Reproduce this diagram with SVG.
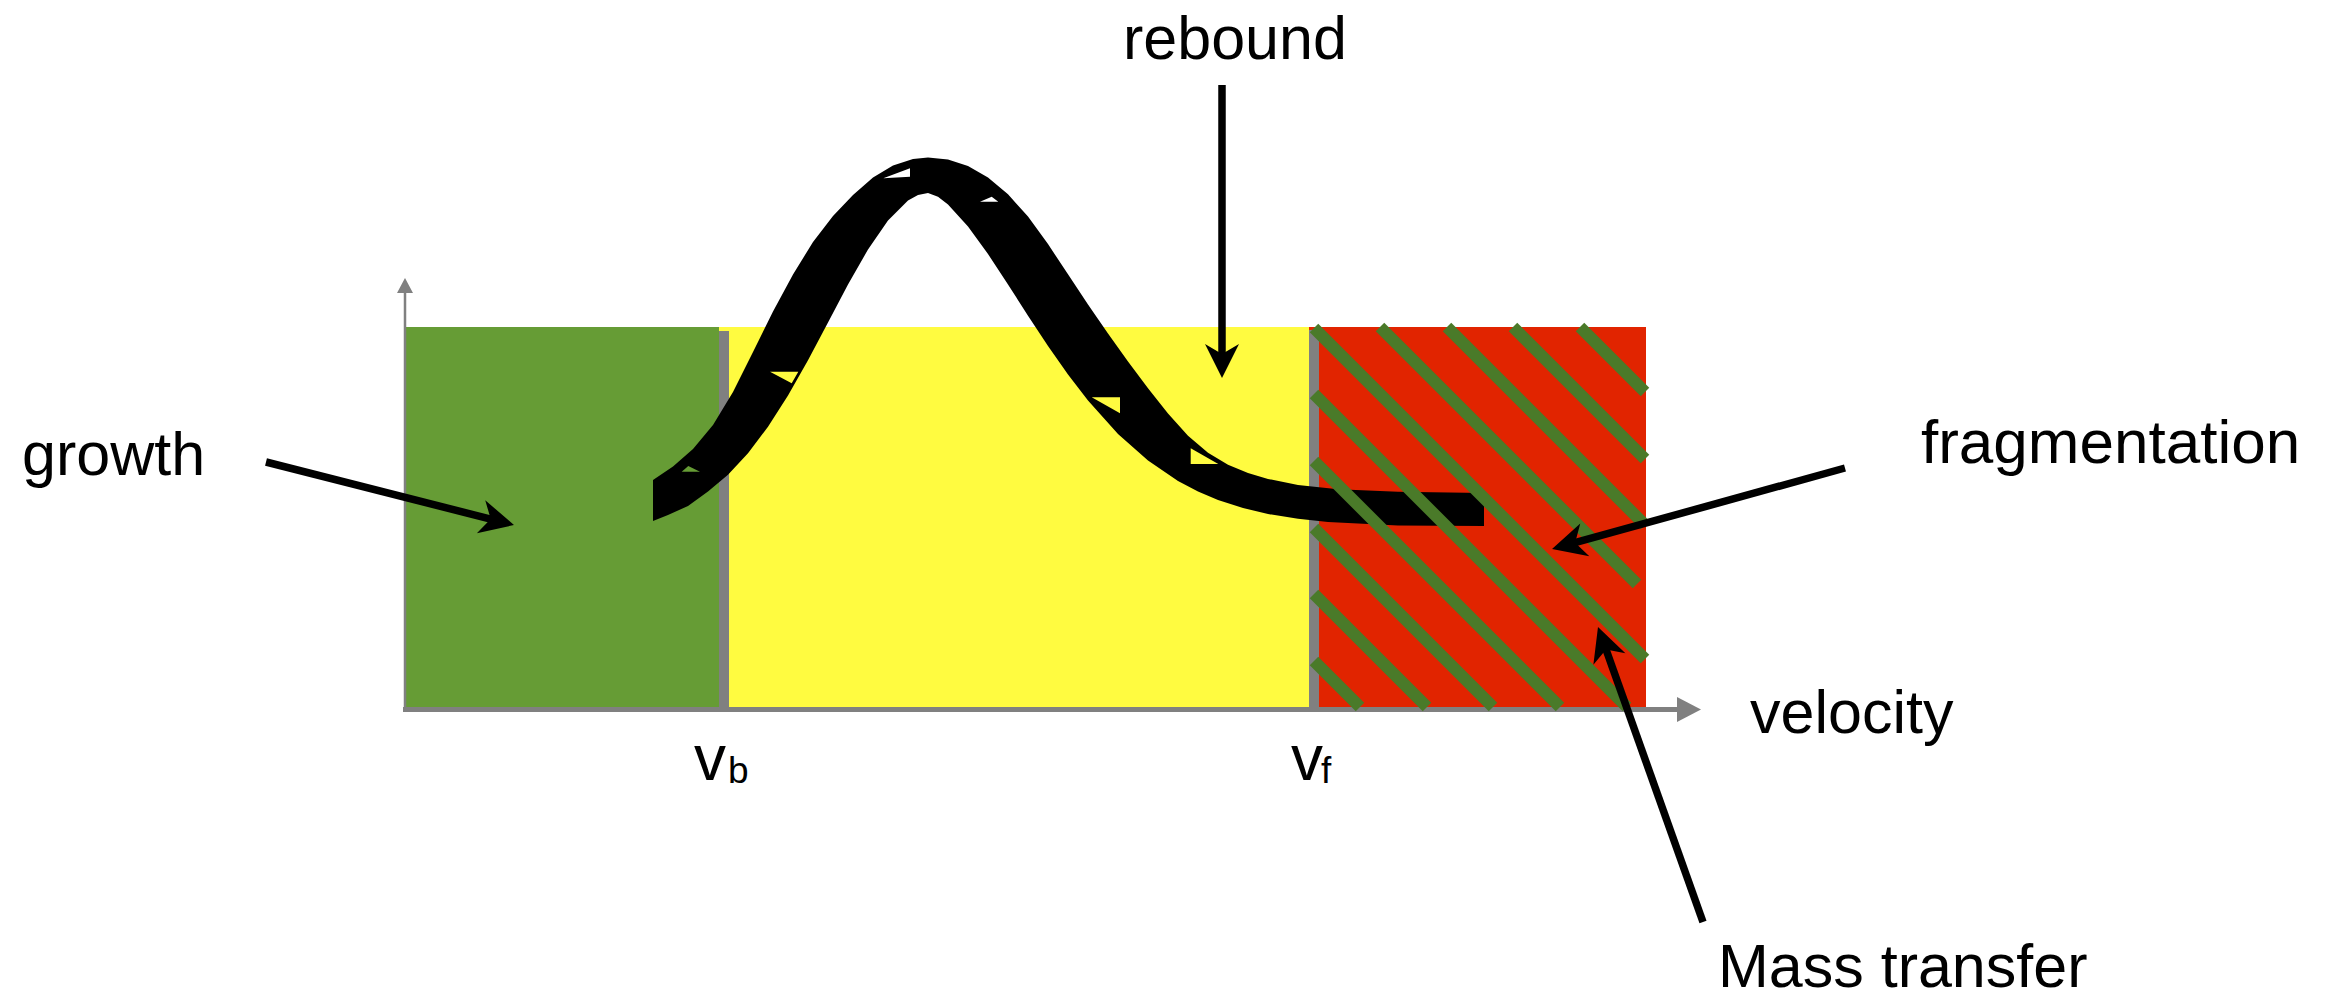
<svg xmlns="http://www.w3.org/2000/svg" width="2332" height="1000" viewBox="0 0 2332 1000">
<style>
.lbl{font-family:"Liberation Sans",Arial,sans-serif;font-size:61px;fill:#000}
.big{font-size:64px}
.sub{font-size:37px}
.conn{stroke:#000;stroke-width:7.5;fill:none;marker-end:url(#ah)}
.stripe{stroke:#4a7a29;stroke-width:12;stroke-linecap:butt}
.bar{fill:#808080}
</style>
<defs>
<marker id="ah" markerUnits="userSpaceOnUse" viewBox="-40 -20 44 40" markerWidth="44" markerHeight="40" refX="-20" refY="0" orient="auto" overflow="visible">
<path d="M0,0 L-34,-17 L-24,0 L-34,17 Z" fill="#000"/>
</marker>
<marker id="axh" markerUnits="userSpaceOnUse" viewBox="-26 -14 28 28" markerWidth="28" markerHeight="28" refX="-24" refY="0" orient="auto" overflow="visible">
<path d="M0,0 L-24,-12.5 L-24,12.5 Z" fill="#808080"/>
</marker>
<marker id="axv" markerUnits="userSpaceOnUse" viewBox="-18 -10 20 20" markerWidth="20" markerHeight="20" refX="-15" refY="0" orient="auto" overflow="visible">
<path d="M0,0 L-15,-8 L-15,8 Z" fill="#808080"/>
</marker>
</defs>
<rect width="2332" height="1000" fill="#fff"/>

<g id="zone-growth"><rect x="406" y="327" width="314" height="381" fill="#669c35"/></g>
<g id="zone-rebound"><rect x="719" y="327" width="591" height="381" fill="#fffb40"/></g>
<g id="zone-fragmentation"><rect x="1309" y="327" width="337" height="381" fill="#e12400"/></g>
<g id="bar-vb"><rect class="bar" x="719" y="331" width="10" height="377"/></g>
<g id="bar-vf"><rect class="bar" x="1309" y="330" width="10" height="378"/></g>

<g id="axes">
<line x1="405" y1="712" x2="405" y2="293" stroke="#808080" stroke-width="2.5" marker-end="url(#axv)"/>
<line x1="403" y1="709.5" x2="1677" y2="709.5" stroke="#808080" stroke-width="5" marker-end="url(#axh)"/>
</g>

<g id="curve">
<path fill="#000" d="M653,480 L673,466.5 L693,449 L713,425 L733,392 L753,352 L773,311.5 L793,274.5 L813,242 L833,216 L853,195 L873,177.5 L893,165.5 L913,159 L928,157.5 L948,159.5 L968,166 L988,177.5 L1008,194.2 L1028,216.6 L1048,244.1 L1068,274.3 L1088,304.6 L1108,333.6 L1128,361.4 L1148,388.3 L1168,413.5 L1188,435.7 L1208,452.7 L1228,464.7 L1248,473.1 L1268,478.9 L1298,484.9 L1338,489.3 L1398,491.7 L1484,493 L1484,526 L1398,525.6 L1328,522 L1298,518.8 L1268,514 L1243,508 L1218,500 L1198,491.5 L1178,481 L1148,460.6 L1118,434 L1088,400.5 L1068,374.5 L1048,346 L1028,315.7 L1008,284.5 L988,254.1 L968,226.5 L948,204.4 L938,196.8 L928,193 L918,195.1 L908,200.6 L888,220.5 L868,249.5 L848,284.6 L828,322.4 L808,360.2 L788,395.5 L768,426.8 L748,453.3 L728,474.8 L708,491.4 L688,506 L668,515 L653,521 Z"/>
<path fill="#fffb40" d="M770,371.7 L798.3,371.7 L791.7,383.3 Z M1091.7,397.3 L1120,397.3 L1120,413.3 Z M1190.7,448.3 L1190.7,464 L1218.3,464 Z"/>
<path fill="#669c35" d="M681.7,471.7 L688.3,466 L700,471.7 Z"/>
<path fill="#fff" d="M883.3,178.3 L910,168.3 L910,176.7 Z M980,201.7 L991.7,196.7 L998.3,201.7 Z"/>
</g>

<g id="hatching">
<line class="stripe" x1="1580" y1="327" x2="1645" y2="392"/>
<line class="stripe" x1="1513" y1="327" x2="1645" y2="459"/>
<line class="stripe" x1="1447" y1="327" x2="1645" y2="525"/>
<line class="stripe" x1="1380" y1="327" x2="1637" y2="584"/>
<line class="stripe" x1="1314" y1="328" x2="1645" y2="659"/>
<line class="stripe" x1="1314" y1="394" x2="1627" y2="707"/>
<line class="stripe" x1="1314" y1="461" x2="1560" y2="707"/>
<line class="stripe" x1="1314" y1="528" x2="1493" y2="707"/>
<line class="stripe" x1="1314" y1="594" x2="1427" y2="707"/>
<line class="stripe" x1="1314" y1="661" x2="1360" y2="707"/>
</g>

<g id="connectors">
<line class="conn" x1="266" y1="462" x2="494.6" y2="520.1"/>
<line class="conn" x1="1222" y1="85" x2="1222" y2="358"/>
<line class="conn" x1="1845" y1="468" x2="1571.3" y2="543.7"/>
<line class="conn" x1="1703" y1="922" x2="1604.7" y2="645.8"/>
</g>

<g id="label-rebound"><text class="lbl" x="1123" y="59">rebound</text></g>
<g id="label-growth"><text class="lbl" x="22" y="475">growth</text></g>
<g id="label-fragmentation"><text class="lbl" x="1921" y="463" style="font-size:62px">fragmentation</text></g>
<g id="label-velocity"><text class="lbl" x="1750" y="733">velocity</text></g>
<g id="label-mass"><text class="lbl" x="1718" y="987">Mass transfer</text></g>
<g id="label-vb"><text class="lbl big" x="694" y="780">v<tspan class="sub" x="728" y="783">b</tspan></text></g>
<g id="label-vf"><text class="lbl big" x="1291" y="780">v<tspan class="sub" x="1321" y="783">f</tspan></text></g>
</svg>
